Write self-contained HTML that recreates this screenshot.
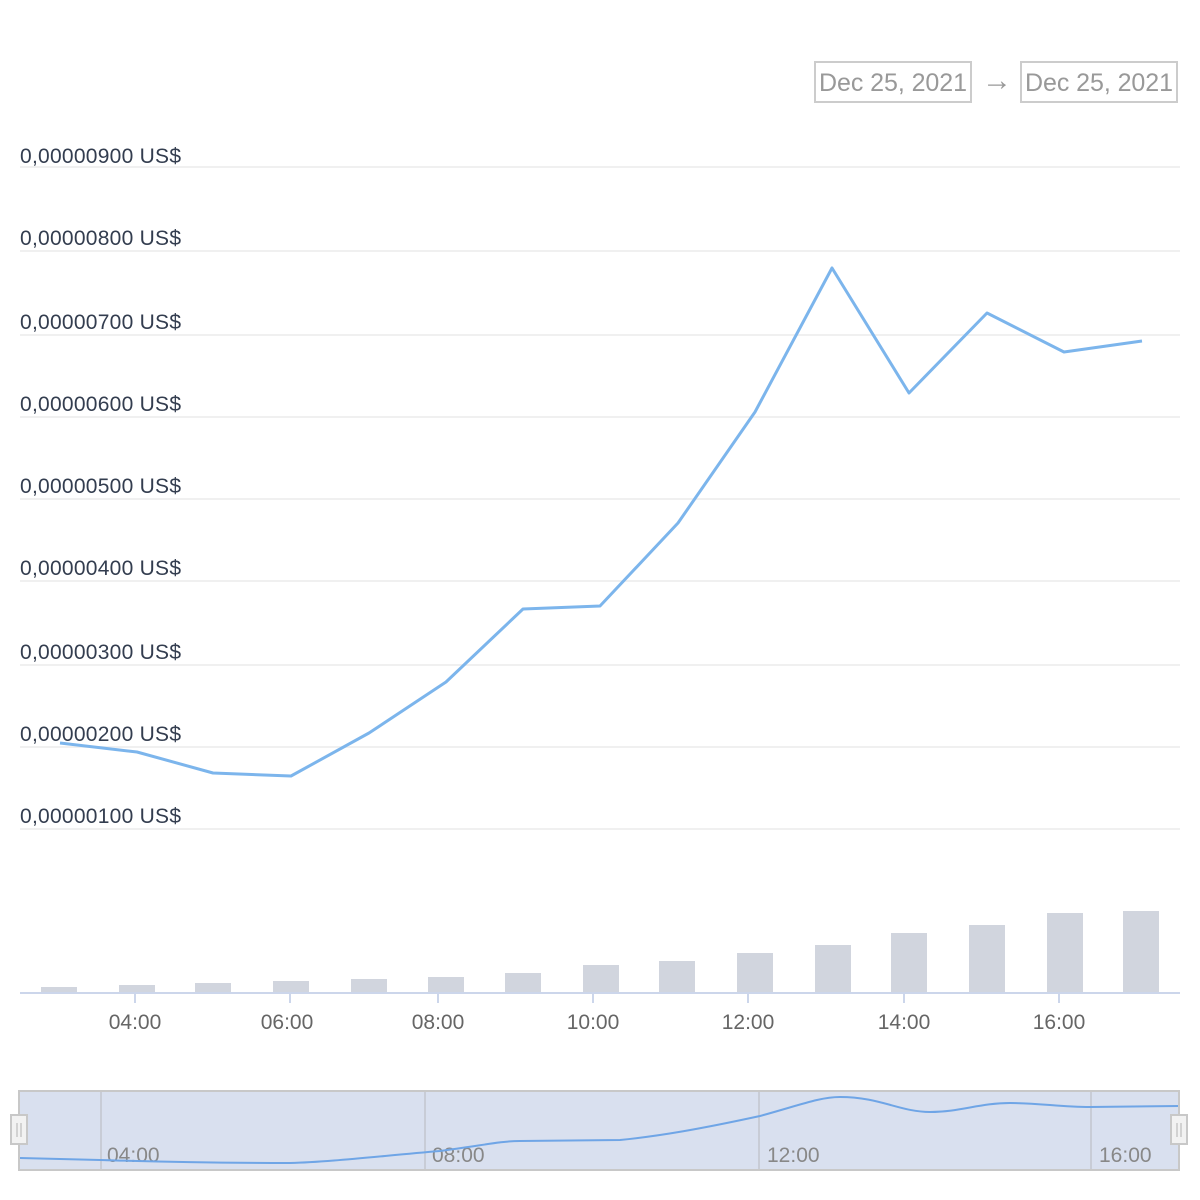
<!DOCTYPE html>
<html><head><meta charset="utf-8"><style>
html,body{margin:0;padding:0;background:#fff;}
svg{display:block;font-family:"Liberation Sans",sans-serif;}
</style></head><body>
<svg width="1200" height="1200" viewBox="0 0 1200 1200" xmlns="http://www.w3.org/2000/svg">
<rect x="815" y="62" width="156" height="40" fill="#fff" stroke="#ccc" stroke-width="2"/>
<text x="893" y="91" font-size="25" fill="#999" text-anchor="middle" textLength="148">Dec 25, 2021</text>
<text x="997" y="90" font-size="30" fill="#999" text-anchor="middle">→</text>
<rect x="1021" y="62" width="156" height="40" fill="#fff" stroke="#ccc" stroke-width="2"/>
<text x="1099" y="91" font-size="25" fill="#999" text-anchor="middle" textLength="148">Dec 25, 2021</text>
<g stroke="#f0f0f0" stroke-width="2">
<line x1="20" x2="1180" y1="167" y2="167"/><line x1="20" x2="1180" y1="251" y2="251"/>
<line x1="20" x2="1180" y1="335" y2="335"/><line x1="20" x2="1180" y1="417" y2="417"/>
<line x1="20" x2="1180" y1="499" y2="499"/><line x1="20" x2="1180" y1="581" y2="581"/>
<line x1="20" x2="1180" y1="665" y2="665"/><line x1="20" x2="1180" y1="747" y2="747"/>
<line x1="20" x2="1180" y1="829" y2="829"/>
</g>
<g font-size="21" fill="#333d4f">
<text x="20" y="163" textLength="161">0,00000900 US$</text><text x="20" y="245" textLength="161">0,00000800 US$</text>
<text x="20" y="329" textLength="161">0,00000700 US$</text><text x="20" y="411" textLength="161">0,00000600 US$</text>
<text x="20" y="493" textLength="161">0,00000500 US$</text><text x="20" y="575" textLength="161">0,00000400 US$</text>
<text x="20" y="659" textLength="161">0,00000300 US$</text><text x="20" y="741" textLength="161">0,00000200 US$</text>
<text x="20" y="823" textLength="161">0,00000100 US$</text>
</g>
<polyline fill="none" stroke="#7cb5ec" stroke-width="3" stroke-linejoin="round" points="60,743 137,752 213,773 291,776 369,733 446,682 523,609 600,606 678,523 755,412 832,268 909,393 987,313 1064,352 1142,341"/>
<g fill="#d1d5de">
<rect x="41" y="987" width="36" height="6"/><rect x="119" y="985" width="36" height="8"/>
<rect x="195" y="983" width="36" height="10"/><rect x="273" y="981" width="36" height="12"/>
<rect x="351" y="979" width="36" height="14"/><rect x="428" y="977" width="36" height="16"/>
<rect x="505" y="973" width="36" height="20"/><rect x="583" y="965" width="36" height="28"/>
<rect x="659" y="961" width="36" height="32"/><rect x="737" y="953" width="36" height="40"/>
<rect x="815" y="945" width="36" height="48"/><rect x="891" y="933" width="36" height="60"/>
<rect x="969" y="925" width="36" height="68"/><rect x="1047" y="913" width="36" height="80"/>
<rect x="1123" y="911" width="36" height="82"/>
</g>
<line x1="20" x2="1180" y1="993" y2="993" stroke="#ccd6eb" stroke-width="2"/>
<g stroke="#ccd6eb" stroke-width="2">
<line x1="135" x2="135" y1="993" y2="1003"/><line x1="290" x2="290" y1="993" y2="1003"/>
<line x1="438" x2="438" y1="993" y2="1003"/><line x1="593" x2="593" y1="993" y2="1003"/>
<line x1="748" x2="748" y1="993" y2="1003"/><line x1="904" x2="904" y1="993" y2="1003"/>
<line x1="1059" x2="1059" y1="993" y2="1003"/>
</g>
<g font-size="21" fill="#666" text-anchor="middle">
<text x="135" y="1029">04:00</text><text x="287" y="1029">06:00</text>
<text x="438" y="1029">08:00</text><text x="593" y="1029">10:00</text>
<text x="748" y="1029">12:00</text><text x="904" y="1029">14:00</text>
<text x="1059" y="1029">16:00</text>
</g>
<rect x="19" y="1091" width="1160" height="79" fill="#d9e0ef"/>
<g stroke="#c8ccd6" stroke-width="2">
<line x1="101" x2="101" y1="1091" y2="1170"/><line x1="425" x2="425" y1="1091" y2="1170"/>
<line x1="759" x2="759" y1="1091" y2="1170"/><line x1="1091" x2="1091" y1="1091" y2="1170"/>
</g>
<g font-size="21" fill="#888">
<text x="107" y="1162">04:00</text><text x="432" y="1162">08:00</text>
<text x="767" y="1162">12:00</text><text x="1099" y="1162">16:00</text>
</g>
<path fill="none" stroke="#6fa5e6" stroke-width="2" d="M20,1158 L100,1160 C140,1161 180,1163 290,1163 C330,1162 380,1156 440,1151 C480,1146 500,1141 520,1141 L620,1140 C660,1136 700,1129 760,1116 C800,1105 820,1097 840,1097 C880,1097 900,1112 930,1112 C960,1112 980,1103 1010,1103 C1040,1103 1060,1107 1090,1107 L1179,1106"/>
<rect x="19" y="1091" width="1160" height="79" fill="none" stroke="#c8c8c8" stroke-width="2"/>
<rect x="11" y="1115" width="16" height="29" fill="#f2f2f2" stroke="#c8c8c8" stroke-width="2"/>
<line x1="17" x2="17" y1="1123" y2="1137" stroke="#c8c8c8" stroke-width="1.5"/>
<line x1="21" x2="21" y1="1123" y2="1137" stroke="#c8c8c8" stroke-width="1.5"/>
<rect x="1171" y="1115" width="16" height="29" fill="#f2f2f2" stroke="#c8c8c8" stroke-width="2"/>
<line x1="1177" x2="1177" y1="1123" y2="1137" stroke="#c8c8c8" stroke-width="1.5"/>
<line x1="1181" x2="1181" y1="1123" y2="1137" stroke="#c8c8c8" stroke-width="1.5"/>
</svg>
</body></html>
